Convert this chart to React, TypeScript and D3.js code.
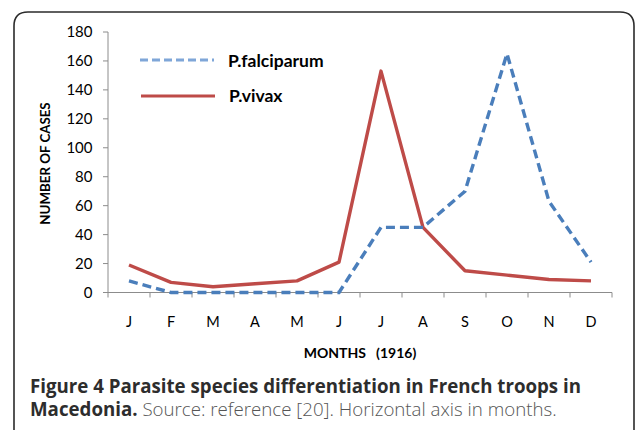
import React from 'react';
import * as d3 from 'd3';

const months = ['J', 'F', 'M', 'A', 'M', 'J', 'J', 'A', 'S', 'O', 'N', 'D'];
const falciparum = [8, 0, 0, 0, 0, 0, 45, 45, 70, 165, 63, 21];
const vivax = [19, 7, 4, 6, 8, 21, 153, 45, 15, 12, 9, 8];
const yTicks = [0, 20, 40, 60, 80, 100, 120, 140, 160, 180];

const W = 635;
const H = 430;
const left = 108;
const right = 612;
const top = 32;
const bottom = 292.5;

const BLUE = '#4A7EBB';
const RED = '#BE4B48';
const AXIS = '#8C8C8C';
const FONT = 'Lato, "Open Sans", sans-serif';

export default function App() {
  const idx = months.map((_, i) => i);
  const x = d3.scaleBand<number>().domain(idx).range([left, right]);
  const y = d3.scaleLinear().domain([0, 180]).range([bottom, top]);
  const cx = (i: number) => (x(i) as number) + x.bandwidth() / 2;

  const line = d3.line<number>()
    .x((_, i) => cx(i))
    .y(d => y(d));

  const boundaries = d3.range(months.length + 1).map(i => left + i * x.bandwidth());

  return (
    <svg width={W} height={H} style={{ position: 'absolute', left: 0, top: 0 }}>
      <rect width={W} height={H} fill="#fff" />
      {/* frame, open at the bottom */}
      <path d="M14,432 L14,26 Q14,12 28,12 L620,12 Q634,12 634,26 L634,432"
        fill="none" stroke="#2b2b2b" strokeWidth={1.6} />

      {/* y axis */}
      <line x1={left} x2={left} y1={top} y2={bottom} stroke={AXIS} strokeWidth={1} />
      {yTicks.map(t => (
        <g key={t}>
          <line x1={left - 5} x2={left} y1={y(t)} y2={y(t)} stroke={AXIS} />
          <text x={92.5} y={y(t)} dy="0.36em" textAnchor="end" fontFamily={FONT}
            fontSize={15} fill="#000">{t}</text>
        </g>
      ))}
      <text transform={`translate(50,163.5) rotate(-90)`} textAnchor="middle"
        fontFamily={FONT} fontWeight="bold" fontSize={13.3} fill="#000">NUMBER OF CASES</text>

      {/* x axis */}
      <line x1={left} x2={right} y1={bottom} y2={bottom} stroke={AXIS} />
      {boundaries.map((b, i) => (
        <line key={i} x1={b} x2={b} y1={bottom} y2={bottom + 5} stroke={AXIS} />
      ))}
      {months.map((m, i) => (
        <text key={i} x={cx(i)} y={327} textAnchor="middle" fontFamily={FONT}
          fontSize={14.5} fill="#000">{m}</text>
      ))}
      <text x={360} y={357.5} textAnchor="middle" fontFamily={FONT} fontWeight="bold"
        fontSize={14} fill="#000" style={{ whiteSpace: 'pre' }}>{'MONTHS   (1916)'}</text>

      {/* series */}
      <path d={line(vivax) || ''} fill="none" stroke={RED} strokeWidth={3.4} strokeLinejoin="round" />
      <path d={line(falciparum) || ''} fill="none" stroke={BLUE} strokeWidth={3.4}
        strokeDasharray="9 5" />

      {/* legend */}
      <line x1={140} x2={214} y1={60} y2={60} stroke="#7FA6D8" strokeWidth={3} strokeDasharray="8 4" />
      <text x={228} y={61} dy="0.35em" fontFamily={FONT} fontWeight="bold" fontSize={17.5} fill="#000">P.falciparum</text>
      <line x1={141} x2={215} y1={96} y2={96} stroke={RED} strokeWidth={3} />
      <text x={229} y={96} dy="0.35em" fontFamily={FONT} fontWeight="bold" fontSize={17.5} fill="#000">P.vivax</text>

      {/* caption */}
      <text x={30} y={393} fontFamily='"Open Sans", sans-serif' fontSize={18.7} fill="#2d2d2d">
        <tspan fontWeight="bold">Figure 4 Parasite species differentiation in French troops in</tspan>
      </text>
      <text x={30} y={416} fontFamily='"Open Sans", sans-serif' fontSize={18.7} fill="#2d2d2d">
        <tspan fontWeight="bold">Macedonia.</tspan>
        <tspan fill="#555" fontWeight={300}> Source: reference [20]. Horizontal axis in months.</tspan>
      </text>
    </svg>
  );
}
